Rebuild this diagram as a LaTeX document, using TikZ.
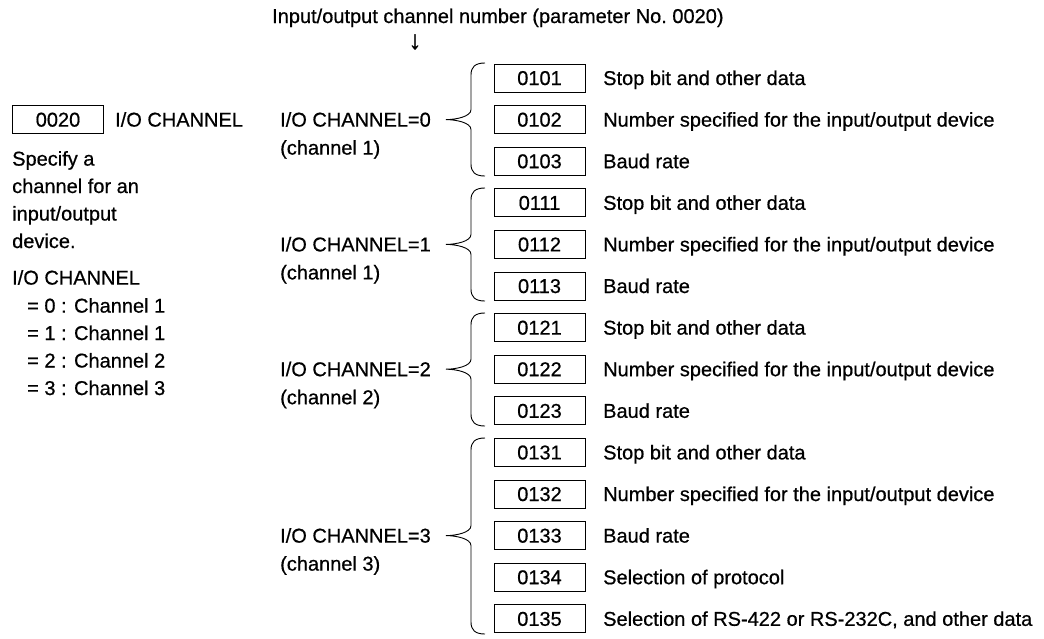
\documentclass[tikz,border=0pt]{standalone}
\usepackage{fontspec}
\setmainfont{Liberation Sans}[FakeBold=0.6]
\begin{document}
\begin{tikzpicture}[x=1pt,y=-1pt,
  every node/.style={font=\fontsize{20}{24}\selectfont},
  txt/.style={anchor=west,inner sep=0pt,text height=14pt,text depth=0pt},
  regbox/.style={draw,line width=0.9pt,minimum width=91pt,minimum height=28pt,inner sep=0pt,text height=14pt,text depth=0pt}]
\useasboundingbox (0,0) rectangle (1044,638);
% heading and arrow
\node[txt] (head) at (272,16) {Input/output channel number (parameter No.\ 0020)};
\node[inner sep=0pt,font=\fontsize{26}{30}\selectfont] (down) at (415,42) {↓};
% parameter 0020
\node[regbox] (p0020) at (58,119.6) {0020};
\node[txt] (pname) at (115,119.6) {I/O CHANNEL};
\node[txt] (spec1) at (12,158.6) {Specify a};
\node[txt] (spec2) at (12,186) {channel for an};
\node[txt] (spec3) at (12,213.5) {input/output};
\node[txt] (spec4) at (12,241) {device.};
\node[txt] (val) at (12,277.6) {I/O CHANNEL};
\node[txt] (val0) at (27,305.6) {= 0 : Channel 1};
\node[txt] (val1) at (27,333) {= 1 : Channel 1};
\node[txt] (val2) at (27,360.5) {= 2 : Channel 2};
\node[txt] (val3) at (27,388) {= 3 : Channel 3};
% parameter rows
\foreach \i/\no/\what in {0/0101/{Stop bit and other data},
    1/0102/{Number specified for the input/output device},
    2/0103/{Baud rate},
    3/0111/{Stop bit and other data},
    4/0112/{Number specified for the input/output device},
    5/0113/{Baud rate},
    6/0121/{Stop bit and other data},
    7/0122/{Number specified for the input/output device},
    8/0123/{Baud rate},
    9/0131/{Stop bit and other data},
    10/0132/{Number specified for the input/output device},
    11/0133/{Baud rate},
    12/0134/{Selection of protocol},
    13/0135/{Selection of RS-422 or RS-232C, and other data}}{
  \node[regbox] (p\no) at (539.5,78+41.6*\i) {\no};
  \node[txt] (d\no) at (603,78+41.6*\i) {\what};
}
% channel groups
\foreach \n/\ch/\t/\m/\b in {0/1/63/119.6/176, 1/1/188/244.4/301,
    2/2/313/369.2/426, 3/3/438/535.6/634}{
  \node[txt] (ch\n) at (280,\m) {I/O CHANNEL=\n};
  \node[txt] (cn\n) at (280,\m+28) {(channel \ch)};
  \draw[line width=0.9pt] (485,\t) .. controls (475,\t) and (471,\t+4) .. (471,\t+12)
    -- (471,\m-10) .. controls (471,\m-3) and (456,\m) .. (446,\m)
    .. controls (456,\m) and (471,\m+3) .. (471,\m+10)
    -- (471,\b-12) .. controls (471,\b-4) and (475,\b) .. (485,\b);
}
\end{tikzpicture}
\end{document}
